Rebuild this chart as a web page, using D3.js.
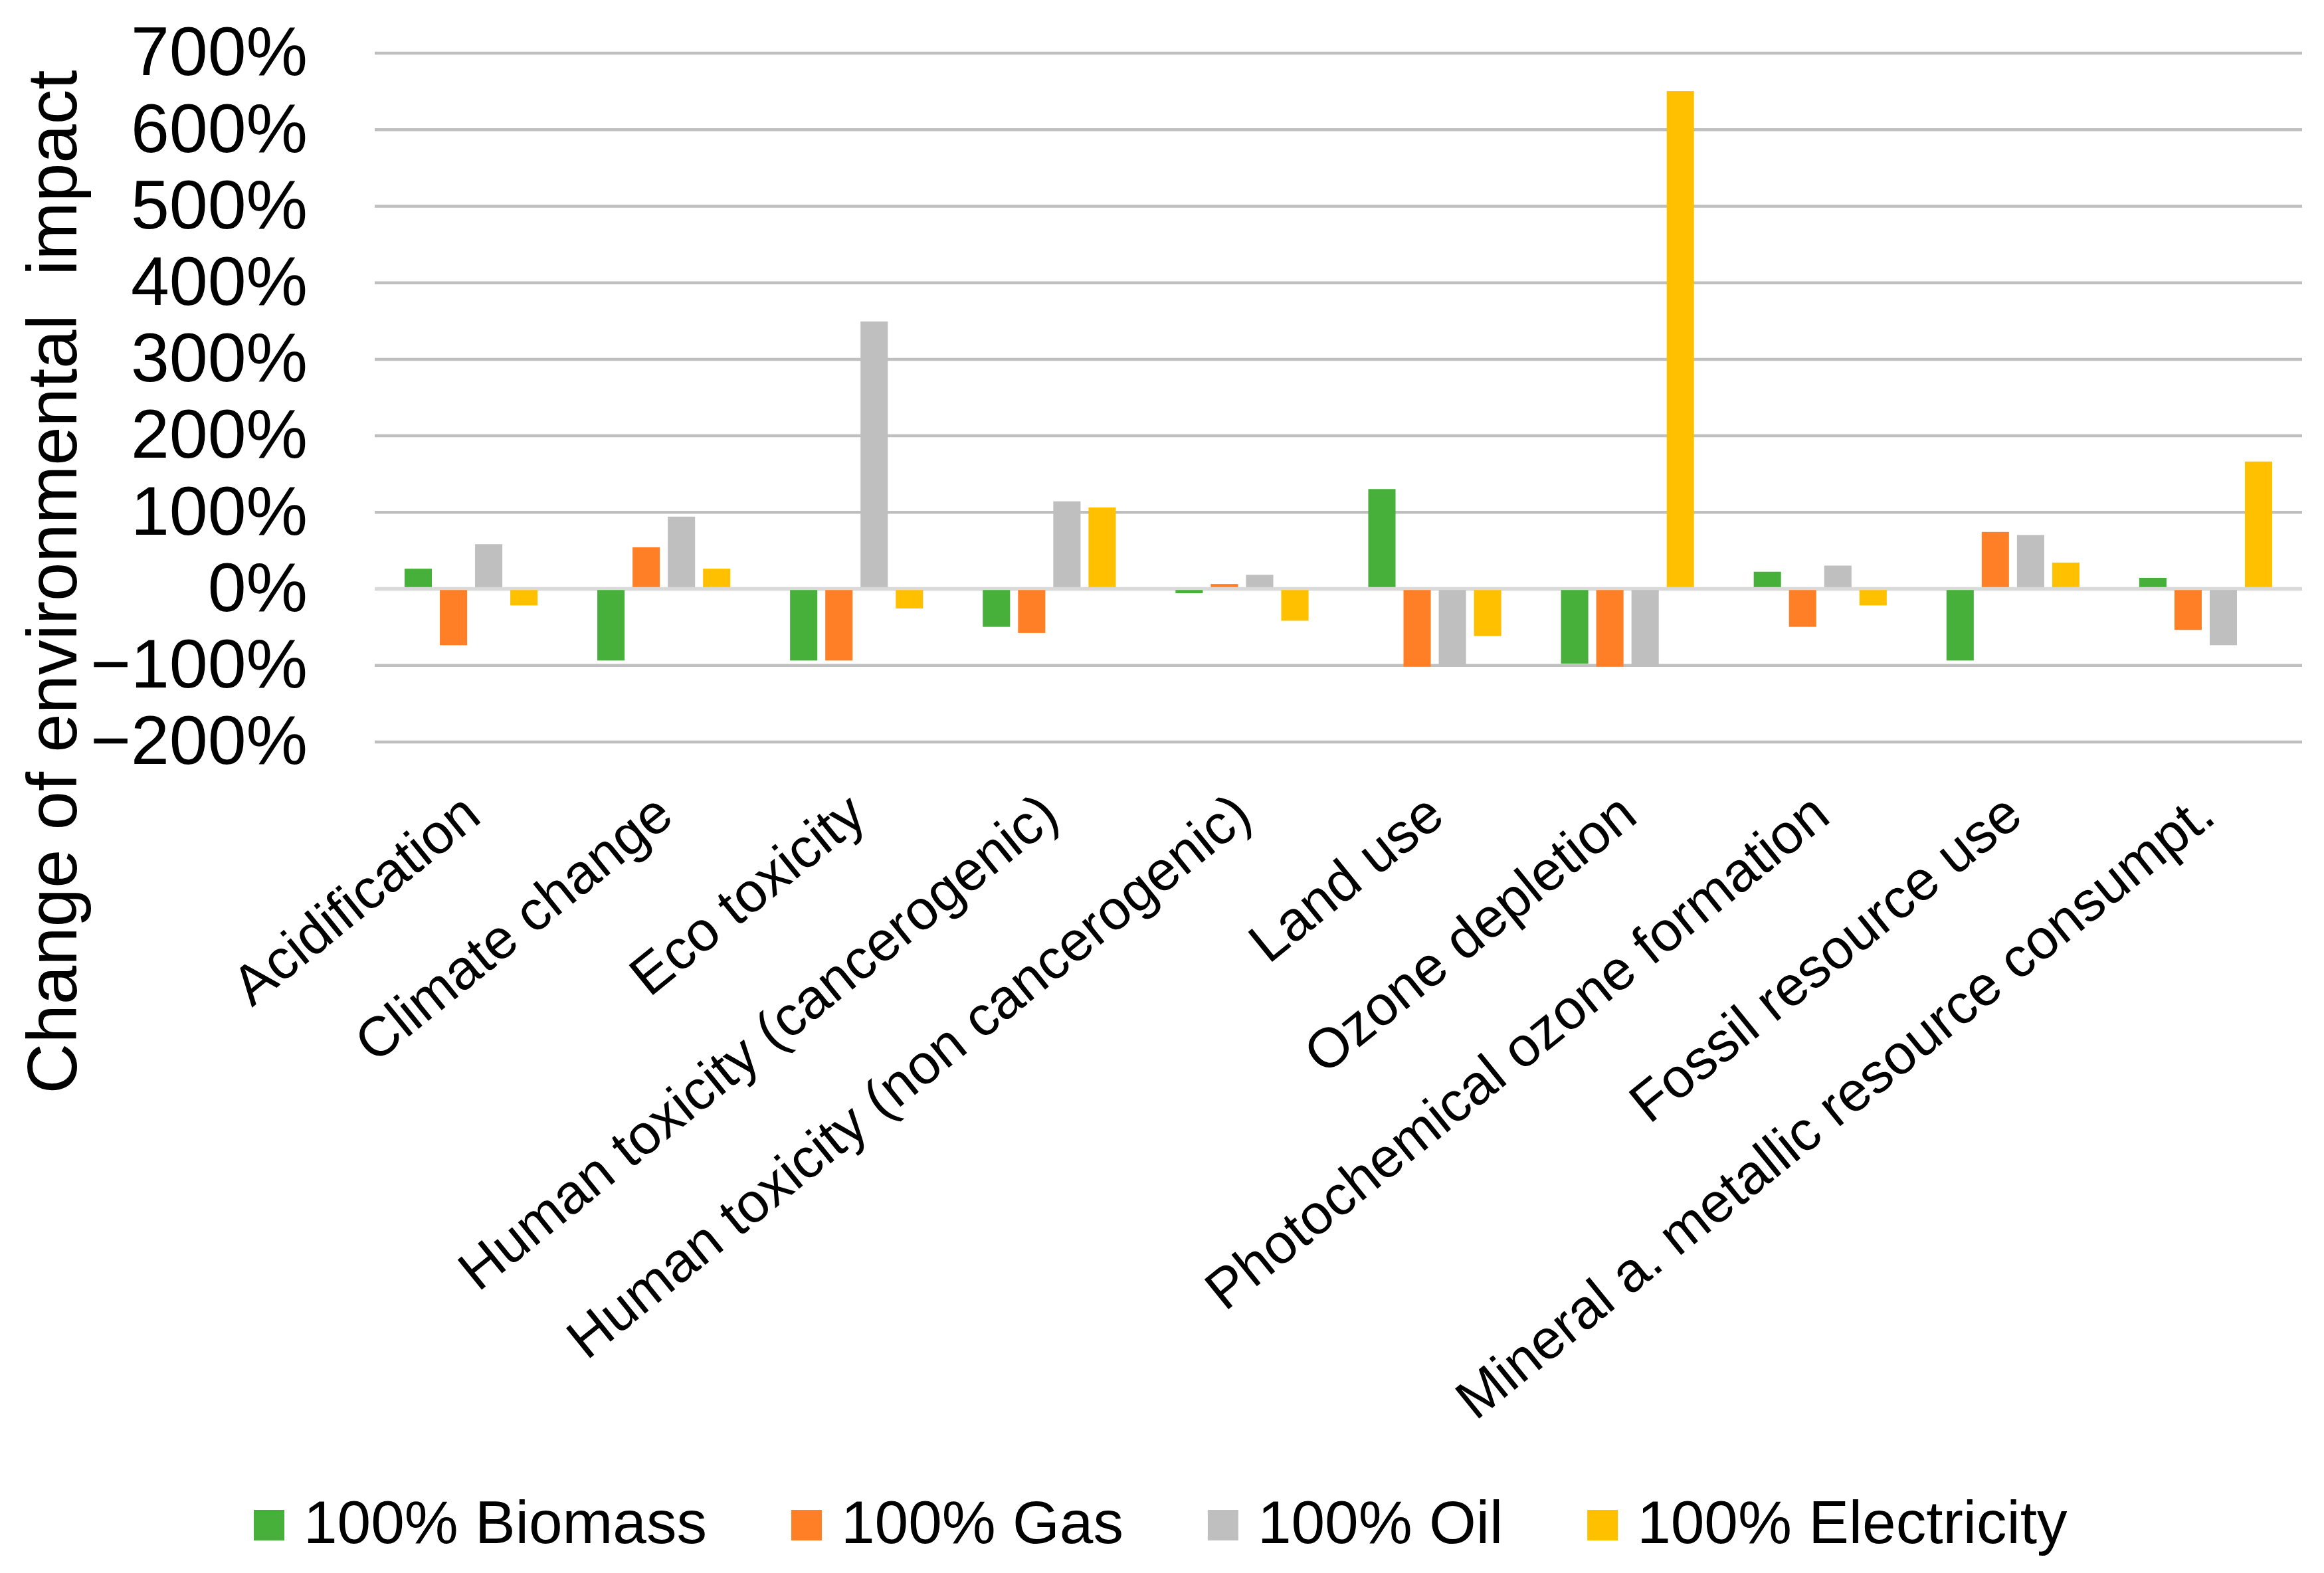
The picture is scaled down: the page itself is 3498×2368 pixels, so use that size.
<!DOCTYPE html>
<html>
<head>
<meta charset="utf-8">
<script src="https://cdn.jsdelivr.net/npm/d3@7"></script>
<style>
  html, body { margin: 0; padding: 0; background: #ffffff; }
  svg { display: block; }
  text { font-family: "Liberation Sans", Arial, sans-serif; fill: #000; }
</style>
</head>
<body>
<svg id="chart" width="3498" height="2368"></svg>
<script>
// ---- data ----
const categories = [
  "Acidification",
  "Climate change",
  "Eco toxicity",
  "Human toxicity (cancerogenic)",
  "Human toxicity (non cancerogenic)",
  "Land use",
  "Ozone depletion",
  "Photochemical ozone formation",
  "Fossil resource use",
  "Mineral a. metallic resource consumpt."
];
const seriesNames = ["100% Biomass", "100% Gas", "100% Oil", "100% Electricity"];
const biomass     = [26, -94, -94, -50, -6, 130, -98, 22, -94, 14];
const gas         = [-74, 54, -94, -58, 6, -102, -102, -50, 74, -54];
const oil         = [58, 94, 349, 114, 18, -101, -101, 30, 70, -74];
const electricity = [-22, 26, -26, 106, -42, -62, 650, -22, 34, 166];
const yTicks = [-200, -100, 0, 100, 200, 300, 400, 500, 600, 700];
const colors = ["#46B03A", "#FF7F27", "#BFBFBF", "#FFC000"];
const yTitle = "Change of environmental  impact";

(function () {
const seriesValues = [biomass, gas, oil, electricity];
const rows = categories.map((c, i) => ({
  cat: c,
  vals: seriesNames.map((s, j) => ({ s, v: seriesValues[j][i], color: colors[j] }))
}));

// ---- layout ----
const svg = d3.select("#chart");
const pLeft = 564, pRight = 3465, pTop = 79.5, pBottom = 1116.5;

const x0 = d3.scaleBand().domain(categories).range([pLeft, pRight])
  .paddingInner(0.31).paddingOuter(0.155);
const x1 = d3.scaleBand().domain(seriesNames).range([0, x0.bandwidth()])
  .paddingInner(0.226).paddingOuter(0);
const y = d3.scaleLinear().domain([-200, 700]).range([pBottom, pTop]);

// gridlines + tick labels
const yAxis = d3.axisLeft(y)
  .tickValues(yTicks)
  .tickSize(-(pRight - pLeft))
  .tickPadding(101)
  .tickFormat(d => (d < 0 ? "\u2212" : "") + Math.abs(d) + "%");

const gy = svg.append("g").attr("transform", `translate(${pLeft},0)`).call(yAxis);
gy.select(".domain").remove();
gy.selectAll(".tick line").attr("stroke", "#BFBFBF").attr("stroke-width", 4.5);
gy.selectAll(".tick text")
  .style("font-family", '"Liberation Sans", Arial, sans-serif')
  .style("font-size", "104px")
  .attr("fill", "#000");

// bars
const groups = svg.append("g").selectAll("g").data(rows).join("g")
  .attr("transform", d => `translate(${x0(d.cat)},0)`);
groups.selectAll("rect").data(d => d.vals).join("rect")
  .attr("x", d => x1(d.s))
  .attr("width", x1.bandwidth())
  .attr("y", d => y(Math.max(0, d.v)))
  .attr("height", d => Math.abs(y(d.v) - y(0)))
  .attr("fill", d => d.color);

// zero axis line on top
svg.append("line")
  .attr("x1", pLeft).attr("x2", pRight)
  .attr("y1", y(0)).attr("y2", y(0))
  .attr("stroke", "#D9D9D9").attr("stroke-width", 4.5);

// x category labels (rotated)
svg.append("g").selectAll("text").data(categories).join("text")
  .attr("transform", d => `translate(${x0(d) + x0.bandwidth() / 2},1212) rotate(-39)`)
  .attr("text-anchor", "end")
  .attr("dy", "0.35em")
  .style("font-size", "84px")
  .text(d => d);

// y axis title
svg.append("text")
  .attr("transform", "translate(115,876) rotate(-90)")
  .attr("text-anchor", "middle")
  .style("font-size", "105px")
  .style("white-space", "pre")
  .text(yTitle);

// legend
const legend = svg.append("g");
let lx = 382;
seriesNames.forEach((s, i) => {
  legend.append("rect")
    .attr("x", lx).attr("y", 2273).attr("width", 46).attr("height", 46)
    .attr("fill", colors[i]);
  const t = legend.append("text")
    .attr("x", lx + 75).attr("y", 2323)
    .style("font-size", "91px")
    .text(s);
  lx += 75 + t.node().getComputedTextLength() + 127;
});
})();
</script>
</body>
</html>
